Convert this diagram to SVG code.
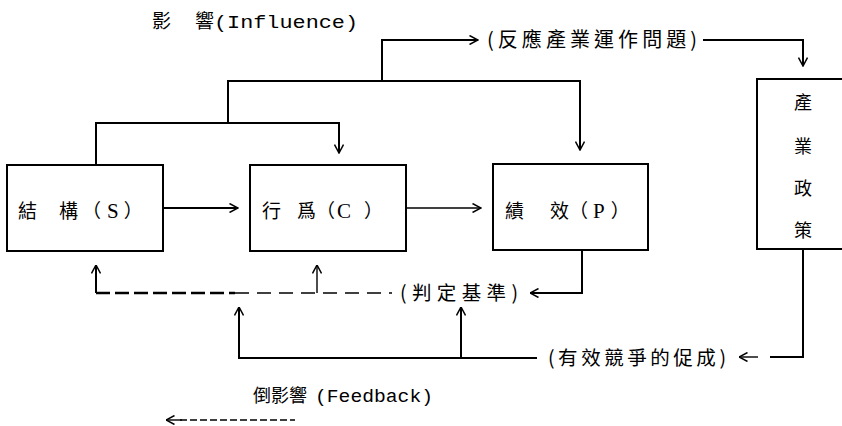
<svg xmlns="http://www.w3.org/2000/svg" width="842" height="426" viewBox="0 0 842 426">
<style>
.box{fill:#fff;stroke:#000;stroke-width:2}
.ln{fill:none;stroke:#000;stroke-width:2}
.thin{fill:none;stroke:#000;stroke-width:1.4}
.dashA{fill:none;stroke:#000;stroke-width:2.4;stroke-dasharray:14 5}
.dashB{fill:none;stroke:#000;stroke-width:1.3;stroke-dasharray:14 8}
.cjk{font-family:"Noto Sans CJK TC","Noto Sans CJK JP",sans-serif;fill:#000}
.ser{font-family:"Liberation Serif",serif;fill:#000}
.mono{font-family:"Liberation Mono",monospace;fill:#000}
</style>
<defs>
<marker id="ah" viewBox="0 0 10 10" refX="9.5" refY="5" markerWidth="10" markerHeight="10" markerUnits="userSpaceOnUse" orient="auto">
<path d="M1,0.5 L9.5,5 L1,9.5" fill="none" stroke="#000" stroke-width="1.5"/>
</marker>
</defs>
<rect width="842" height="426" fill="#fff"/>

<text id="title" y="28" font-size="19"><tspan class="cjk" x="152">影</tspan><tspan class="cjk" dx="5"> </tspan><tspan class="cjk" x="195">響</tspan><tspan class="mono" x="214" textLength="144" lengthAdjust="spacingAndGlyphs">(Influence)</tspan></text>

<g id="connectors">
<path class="ln" d="M382,81 V40 H478" marker-end="url(#ah)"/>
<path class="ln" d="M703,40 H803 V66" marker-end="url(#ah)"/>
<path class="ln" d="M228,123 V81 H580 V150" marker-end="url(#ah)"/>
<path class="ln" d="M96,165 V123 H339 V153" marker-end="url(#ah)"/>
<path class="ln" d="M163,208 H238" marker-end="url(#ah)"/>
<path class="thin" d="M406,208 H481" marker-end="url(#ah)"/>
<path class="dashA" d="M96,293 H235"/>
<path class="dashB" d="M235,293 H392"/>
<path class="ln" d="M96,293 V265" marker-end="url(#ah)"/>
<path class="thin" d="M317,293 V265" marker-end="url(#ah)"/>
<path class="ln" d="M582,250 V293 H530" marker-end="url(#ah)"/>
<path class="ln" d="M537,358 H239 V307" marker-end="url(#ah)"/>
<path class="ln" d="M461,358 V307" marker-end="url(#ah)"/>
<path class="ln" d="M803,249 V357 H770"/>
<path class="thin" d="M758,357 H739" marker-end="url(#ah)"/>
<text class="cjk" x="487" y="47" font-size="20" textLength="210" lengthAdjust="spacing">(反應產業運作問題)</text>
<text class="cjk" x="400" y="300" font-size="19.5" textLength="118" lengthAdjust="spacing">(判定基準)</text>
<text class="cjk" x="548" y="365" font-size="19.5" textLength="178" lengthAdjust="spacing">(有效競爭的促成)</text>
</g>

<g id="structure">
<rect class="box" x="7" y="165" width="156" height="86"/>
<text class="cjk" x="18" y="218" font-size="19">結<tspan dx="22">構</tspan><tspan dx="4">（</tspan><tspan class="ser" dx="6" font-size="21">S</tspan><tspan dx="5">）</tspan></text>
</g>

<g id="conduct">
<rect class="box" x="250" y="165" width="156" height="86"/>
<text class="cjk" x="262" y="218" font-size="19">行<tspan dx="16">爲</tspan><tspan dx="0">（</tspan><tspan class="ser" dx="2" font-size="21">C</tspan><tspan dx="13">）</tspan></text>
</g>

<g id="performance">
<rect class="box" x="493" y="164" width="155" height="86"/>
<text class="cjk" x="505" y="218" font-size="19">績<tspan dx="26">效</tspan><tspan dx="0">（</tspan><tspan class="ser" dx="5" font-size="21">P</tspan><tspan dx="6">）</tspan></text>
</g>

<g id="policy">
<rect class="box" x="757" y="79" width="100" height="170"/>
<text class="cjk" font-size="18" text-anchor="middle"><tspan x="803" y="109">產</tspan><tspan x="803" y="153">業</tspan><tspan x="803" y="195">政</tspan><tspan x="803" y="237">策</tspan></text>
</g>

<g id="legend">
<text y="402" font-size="18"><tspan class="cjk" x="253">倒影響</tspan><tspan class="mono" x="315" textLength="118" lengthAdjust="spacingAndGlyphs">(Feedback)</tspan></text>
<path class="thin" d="M182,420 H166" marker-end="url(#ah)"/>
<path fill="none" stroke="#000" stroke-width="1.3" stroke-dasharray="7 3" d="M180,420 H295"/>
</g>
</svg>
